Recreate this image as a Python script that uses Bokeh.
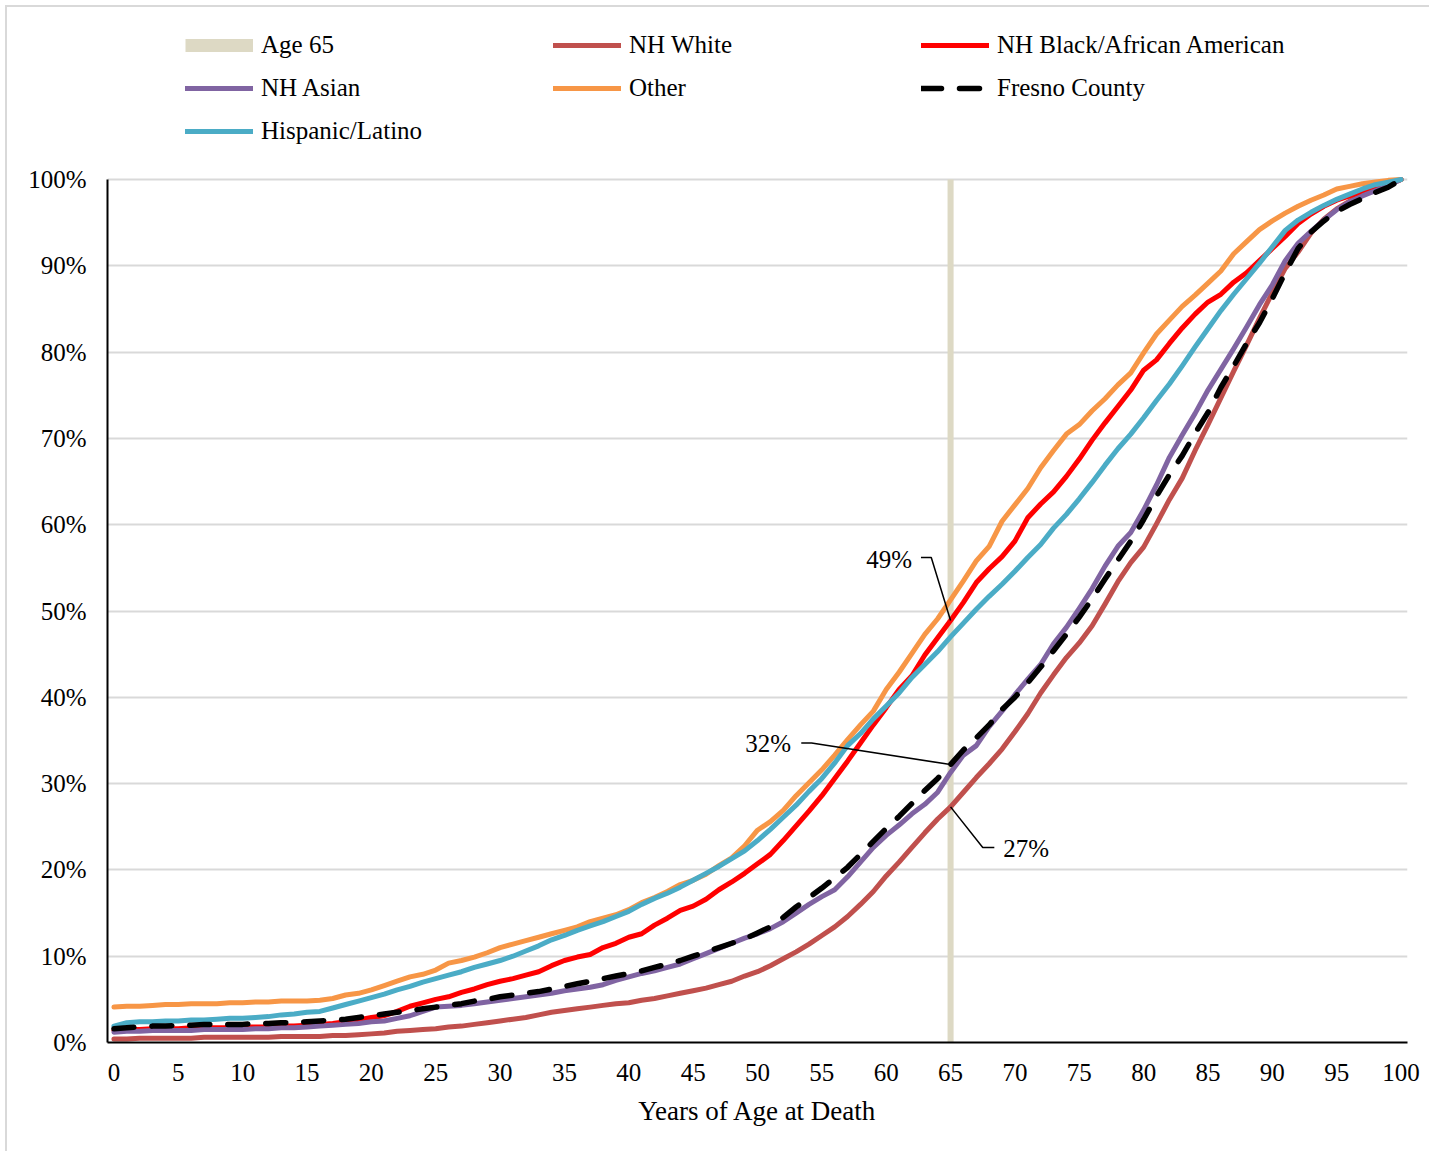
from bokeh.plotting import figure
from bokeh.models import Legend, LegendItem, FixedTicker, PrintfTickFormatter, Range1d
from bokeh.core.properties import value
from bokeh.embed import file_html
from bokeh.resources import INLINE

# ---------------- data (cumulative % of deaths by age) ----------------
ages = list(range(0, 101))
age_marker = 65

nh_white = [
    0.4, 0.4, 0.5, 0.5, 0.5, 0.5, 0.5, 0.6, 0.6, 0.6,
    0.6, 0.6, 0.6, 0.7, 0.7, 0.7, 0.7, 0.8, 0.8, 0.9,
    1.0, 1.1, 1.3, 1.4, 1.5, 1.6, 1.8, 1.9, 2.1, 2.3,
    2.5, 2.7, 2.9, 3.2, 3.5, 3.7, 3.9, 4.1, 4.3, 4.5,
    4.6, 4.9, 5.1, 5.4, 5.7, 6.0, 6.3, 6.7, 7.1, 7.7,
    8.2, 8.9, 9.7, 10.5, 11.4, 12.4, 13.4, 14.6, 16.0, 17.5,
    19.3, 20.9, 22.6, 24.3, 25.9, 27.3, 29.0, 30.7, 32.3, 34.0,
    36.0, 38.1, 40.5, 42.6, 44.6, 46.3, 48.3, 50.8, 53.4, 55.6,
    57.4, 60.1, 62.9, 65.4, 68.6, 71.6, 74.7, 77.8, 80.8, 83.9,
    86.9, 89.7, 91.6, 93.8, 95.4, 96.6, 97.5, 98.2, 98.9, 99.4,
    100.0]

nh_black = [
    1.4, 1.5, 1.5, 1.6, 1.6, 1.6, 1.7, 1.7, 1.7, 1.7,
    1.8, 1.8, 1.8, 1.9, 1.9, 2.0, 2.1, 2.2, 2.4, 2.6,
    2.9, 3.1, 3.6, 4.2, 4.6, 5.0, 5.3, 5.8, 6.2, 6.7,
    7.1, 7.4, 7.8, 8.2, 8.9, 9.5, 9.9, 10.2, 11.0, 11.5,
    12.2, 12.6, 13.6, 14.4, 15.3, 15.8, 16.6, 17.7, 18.6, 19.6,
    20.7, 21.8, 23.4, 25.1, 26.8, 28.6, 30.6, 32.6, 34.7, 36.8,
    38.8, 40.9, 42.5, 44.9, 46.9, 48.9, 51.0, 53.3, 54.9, 56.3,
    58.1, 60.8, 62.4, 63.8, 65.6, 67.6, 69.8, 71.8, 73.7, 75.6,
    77.9, 79.1, 81.0, 82.8, 84.4, 85.8, 86.7, 88.1, 89.2, 90.6,
    92.0, 93.4, 94.9, 96.0, 96.9, 97.6, 98.1, 98.6, 99.1, 99.5,
    100.0]

nh_asian = [
    1.2, 1.3, 1.3, 1.4, 1.4, 1.4, 1.4, 1.5, 1.5, 1.5,
    1.5, 1.6, 1.6, 1.7, 1.7, 1.8, 1.9, 2.0, 2.1, 2.2,
    2.4, 2.5, 2.8, 3.1, 3.6, 4.1, 4.2, 4.3, 4.5, 4.7,
    4.9, 5.1, 5.3, 5.5, 5.7, 6.0, 6.2, 6.4, 6.7, 7.2,
    7.6, 8.0, 8.3, 8.7, 9.1, 9.7, 10.3, 10.9, 11.5, 12.1,
    12.6, 13.2, 14.0, 15.0, 16.0, 16.9, 17.7, 19.2, 20.9, 22.6,
    24.0, 25.2, 26.5, 27.6, 29.0, 31.3, 33.3, 34.4, 36.6, 38.4,
    40.3, 42.1, 43.8, 46.2, 48.1, 50.3, 52.6, 55.2, 57.5, 59.1,
    61.7, 64.6, 67.8, 70.4, 72.9, 75.6, 78.0, 80.4, 82.9, 85.5,
    87.8, 90.6, 92.6, 94.0, 95.3, 96.5, 97.4, 98.1, 98.7, 99.3,
    100.0]

other = [
    4.1, 4.2, 4.2, 4.3, 4.4, 4.4, 4.5, 4.5, 4.5, 4.6,
    4.6, 4.7, 4.7, 4.8, 4.8, 4.8, 4.9, 5.1, 5.5, 5.7,
    6.1, 6.6, 7.1, 7.6, 7.9, 8.4, 9.2, 9.5, 9.9, 10.4,
    11.0, 11.4, 11.8, 12.2, 12.6, 13.0, 13.4, 14.0, 14.4, 14.8,
    15.4, 16.2, 16.8, 17.5, 18.3, 18.8, 19.5, 20.5, 21.4, 22.8,
    24.6, 25.6, 26.9, 28.6, 30.1, 31.6, 33.3, 35.1, 36.8, 38.4,
    40.9, 42.9, 45.1, 47.3, 49.1, 51.3, 53.5, 55.8, 57.5, 60.4,
    62.3, 64.2, 66.6, 68.6, 70.5, 71.6, 73.2, 74.6, 76.2, 77.6,
    79.9, 82.1, 83.7, 85.3, 86.6, 88.0, 89.4, 91.4, 92.8, 94.2,
    95.2, 96.1, 96.9, 97.6, 98.2, 98.9, 99.2, 99.5, 99.7, 99.9,
    100.0]

hispanic = [
    1.9, 2.3, 2.4, 2.4, 2.5, 2.5, 2.6, 2.6, 2.7, 2.8,
    2.8, 2.9, 3.0, 3.2, 3.3, 3.5, 3.6, 4.0, 4.4, 4.8,
    5.2, 5.6, 6.1, 6.5, 7.0, 7.4, 7.8, 8.2, 8.7, 9.1,
    9.5, 10.0, 10.6, 11.2, 11.9, 12.4, 13.0, 13.5, 14.0, 14.6,
    15.2, 16.0, 16.7, 17.3, 18.0, 18.8, 19.6, 20.4, 21.3, 22.2,
    23.4, 24.7, 26.1, 27.5, 29.1, 30.6, 32.4, 34.4, 35.8, 37.5,
    39.0, 40.5, 42.3, 43.8, 45.3, 47.0, 48.6, 50.2, 51.7, 53.1,
    54.6, 56.2, 57.7, 59.6, 61.2, 63.0, 64.9, 66.9, 68.8, 70.5,
    72.4, 74.4, 76.3, 78.4, 80.6, 82.7, 84.8, 86.7, 88.5, 90.3,
    92.2, 94.1, 95.3, 96.2, 97.0, 97.7, 98.3, 98.9, 99.4, 99.7,
    100.0]

fresno = [
    1.6, 1.7, 1.8, 1.9, 1.9, 2.0, 2.0, 2.1, 2.1, 2.1,
    2.1, 2.2, 2.2, 2.3, 2.3, 2.4, 2.5, 2.6, 2.7, 2.9,
    3.1, 3.3, 3.5, 3.7, 3.9, 4.1, 4.3, 4.5, 4.8, 5.0,
    5.3, 5.5, 5.7, 5.9, 6.2, 6.5, 6.8, 7.1, 7.4, 7.7,
    8.0, 8.3, 8.7, 9.1, 9.5, 10.0, 10.5, 11.0, 11.5, 12.0,
    12.7, 13.4, 14.5, 15.7, 16.8, 17.9, 19.1, 20.3, 21.8, 23.3,
    24.8, 26.2, 27.7, 29.2, 30.6, 32.2, 33.9, 35.3, 36.8, 38.6,
    40.0, 41.7, 43.5, 45.4, 47.3, 49.3, 51.4, 53.7, 55.9, 58.1,
    60.6, 63.3, 65.8, 68.0, 70.6, 73.0, 75.9, 78.4, 81.0, 83.4,
    86.2, 89.2, 92.0, 93.9, 95.2, 96.3, 97.1, 97.8, 98.5, 99.1,
    100.0]

x_ticks = list(range(0, 101, 5))
y_ticks = list(range(0, 101, 10))

# ---------------- styling ----------------
FONT = "Liberation Serif"
TAN = "#DDD9C4"
C_WHITE = "#C0504D"
C_BLACK = "#FF0000"
C_ASIAN = "#8064A2"
C_OTHER = "#F79646"
C_HISP = "#4BACC6"
C_FRESNO = "#000000"
LW = 5

# frame spans page y 7..1042; 100% sits at page y 179 -> headroom above 100 for the legend
Y_TOP = 100 * (1042 - 7) / (1042 - 179)

p = figure(width=1424, height=1146, title=None,
           x_range=Range1d(-0.5, 100.5), y_range=Range1d(0, Y_TOP),
           output_backend="svg", toolbar_location=None,
           min_border_left=100, min_border_right=24,
           min_border_top=0, min_border_bottom=111)
p.outline_line_color = None
p.background_fill_color = "white"
p.border_fill_color = "white"
p.styles = {"margin-left": "7px", "margin-top": "7px",
            "box-shadow": "-2px -2px 0 0 #D9D9D9"}

p.xaxis.ticker = FixedTicker(ticks=x_ticks)
p.yaxis.ticker = FixedTicker(ticks=y_ticks)
p.yaxis.bounds = (0, 100)
p.yaxis.formatter = PrintfTickFormatter(format="%d%%")
for ax in (p.xaxis[0], p.yaxis[0]):
    ax.major_tick_in = 0
    ax.major_tick_out = 0
    ax.minor_tick_line_color = None
    ax.axis_line_color = "black"
    ax.axis_line_width = 2
    ax.major_label_text_font = FONT
    ax.major_label_text_font_size = "25px"
    ax.major_label_text_color = "black"
p.yaxis.major_label_standoff = 21
p.xaxis.major_label_standoff = 21
p.xaxis.axis_label = "Years of Age at Death"
p.xaxis.axis_label_text_font = FONT
p.xaxis.axis_label_text_font_size = "27px"
p.xaxis.axis_label_text_font_style = "normal"
p.xaxis.axis_label_text_color = "black"
p.xaxis.axis_label_standoff = 12

p.xgrid.grid_line_color = None
p.ygrid.ticker = FixedTicker(ticks=y_ticks)
p.ygrid.grid_line_color = "#D9D9D9"
p.ygrid.grid_line_width = 2

# Age 65 band
p.vbar(x=[age_marker], width=0.47, top=[100], bottom=0,
       fill_color=TAN, line_color=None)
# legend proxy for the band (single point -> draws nothing in the plot, thick swatch in legend)
age_leg = p.line(x=[age_marker], y=[100], line_color=TAN, line_width=13, line_cap="butt")

r_white = p.line(ages, nh_white, line_color=C_WHITE, line_width=LW, line_join="round", line_cap="round")
r_black = p.line(ages, nh_black, line_color=C_BLACK, line_width=LW, line_join="round", line_cap="round")
r_asian = p.line(ages, nh_asian, line_color=C_ASIAN, line_width=LW, line_join="round", line_cap="round")
r_other = p.line(ages, other, line_color=C_OTHER, line_width=LW, line_join="round", line_cap="round")
r_hisp = p.line(ages, hispanic, line_color=C_HISP, line_width=LW, line_join="round", line_cap="round")
r_fresno = p.line(ages, fresno, line_color=C_FRESNO, line_width=5.5, line_dash="20 18",
                  line_join="round", line_cap="round")

# annotations at age 65
i65 = ages.index(age_marker)
ann_font = dict(text_font=value(FONT), text_font_size="25px", text_color="black",
                text_baseline="middle")
p.line([62.7, 63.5, age_marker], [56.2, 56.2, nh_black[i65]], line_color="black", line_width=1.5)
p.text(x=[62.0], y=[56.0], text=[f"{round(nh_black[i65])}%"], text_align="right", **ann_font)
p.line([53.4, 54.2, age_marker], [34.7, 34.7, fresno[i65]], line_color="black", line_width=1.5)
p.text(x=[52.6], y=[34.6], text=[f"{round(fresno[i65])}%"], text_align="right", **ann_font)
p.line([age_marker, 67.5, 68.4], [nh_white[i65], 22.6, 22.6], line_color="black", line_width=1.5)
p.text(x=[69.1], y=[22.5], text=[f"{round(nh_white[i65])}%"], text_align="left", **ann_font)

items = [
    LegendItem(label="Age 65", renderers=[age_leg]),
    LegendItem(label="NH White", renderers=[r_white]),
    LegendItem(label="NH Black/African American", renderers=[r_black]),
    LegendItem(label="NH Asian", renderers=[r_asian]),
    LegendItem(label="Other", renderers=[r_other]),
    LegendItem(label="Fresno County", renderers=[r_fresno]),
    LegendItem(label="Hispanic/Latino", renderers=[r_hisp]),
]
leg = Legend(items=items, orientation="horizontal", ncols=3, location=(78, 896),
             glyph_width=68, glyph_height=30, label_height=30, label_width=279,
             label_standoff=8, spacing=13, padding=0, margin=0,
             border_line_color=None, background_fill_alpha=0,
             label_text_font=FONT, label_text_font_size="25px", label_text_color="black")
p.add_layout(leg, "center")

open("out.html", "w").write(file_html(p, INLINE, title="Age at death"))
